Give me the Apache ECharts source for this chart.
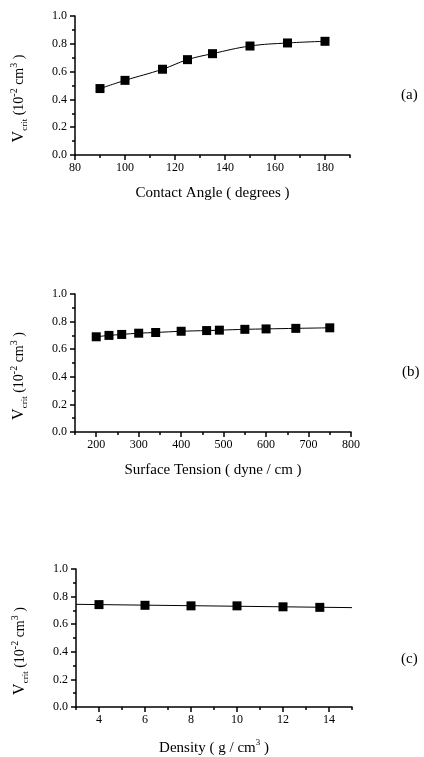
<!DOCTYPE html>
<html>
<head>
<meta charset="utf-8">
<script src="https://cdn.jsdelivr.net/npm/echarts@6/dist/echarts.min.js"></script>
<style>
  html, body { margin: 0; padding: 0; background: #fff; }
  #chart { width: 424px; height: 757px; }
</style>
</head>
<body>
<div id="chart"></div>
<script>
// (a) contact angle
const angleX = [90, 100, 115, 125, 135, 150, 165, 180];
const angleV = [0.478, 0.537, 0.617, 0.686, 0.729, 0.784, 0.806, 0.818];
const angleMajor = [80, 100, 120, 140, 160, 180];

// (b) surface tension
const tensionX = [200, 230, 260, 300, 340, 400, 460, 490, 550, 600, 670, 750];
const tensionV = [0.69, 0.70, 0.707, 0.716, 0.721, 0.73, 0.735, 0.738, 0.744, 0.747, 0.751, 0.755];
const tensionMajor = [200, 300, 400, 500, 600, 700, 800];

// (c) density
const densityX = [4, 6, 8, 10, 12, 13.6];
const densityV = [0.742, 0.737, 0.733, 0.733, 0.726, 0.722];
const densityFitX = [3, 15];
const densityFitV = [0.744, 0.72];
const densityMajor = [4, 6, 8, 10, 12, 14];

const font = 'Liberation Serif';
const ink = '#000';

const chart = echarts.init(document.getElementById('chart'));

function pairs(xs, ys) {
  return xs.map((x, i) => [x, ys[i]]);
}

function xAxes(idx, min, max, step, majors, name, rich) {
  return [
    {
      type: 'value', gridIndex: idx, position: 'bottom', min: min, max: max, interval: step,
      name: name, nameLocation: 'middle', nameGap: 31,
      nameTextStyle: {fontFamily: font, fontSize: 15, color: ink, rich: rich},
      axisLine: {lineStyle: {color: ink, width: 1.5}},
      axisTick: {length: 3, lineStyle: {color: ink, width: 1.5}},
      axisLabel: {
        margin: 7, fontFamily: font, fontSize: 12, color: ink,
        formatter: v => (majors.indexOf(v) >= 0 ? String(v) : '')
      },
      splitLine: {show: false}
    },
    {
      type: 'value', gridIndex: idx, position: 'bottom', offset: 0, min: min, max: max, interval: step,
      axisLine: {show: false},
      axisTick: {length: 5, customValues: majors, lineStyle: {color: ink, width: 1.5}},
      axisLabel: {show: false},
      splitLine: {show: false}
    }
  ];
}

const supRich = {
  t: {fontFamily: font, fontSize: 15, color: ink, lineHeight: 20},
  p: {fontFamily: font, fontSize: 9, color: ink, lineHeight: 12, verticalAlign: 'top'}
};

const yRich = {
  v: {fontFamily: font, fontSize: 16, color: ink, lineHeight: 20},
  s: {fontFamily: font, fontSize: 9, color: ink, lineHeight: 10, verticalAlign: 'bottom'},
  t: {fontFamily: font, fontSize: 14, color: ink, lineHeight: 20},
  p: {fontFamily: font, fontSize: 10, color: ink, lineHeight: 13, verticalAlign: 'top'}
};

function yAxis(idx) {
  return {
    type: 'value', gridIndex: idx, min: 0, max: 1, interval: 0.2,
    name: '{v|V}{s|crit}{t| (10}{p|-2}{t| cm}{p|3}{t| )}',
    nameLocation: 'middle', nameGap: 46,
    nameTextStyle: {padding: [0, 26, 0, 0], rich: yRich},
    axisLine: {lineStyle: {color: ink, width: 1.5}},
    axisTick: {length: 5, lineStyle: {color: ink, width: 1.5}},
    minorTick: {show: true, splitNumber: 2, length: 3, lineStyle: {color: ink, width: 1.5}},
    axisLabel: {margin: 8, fontFamily: font, fontSize: 12, color: ink, formatter: v => v.toFixed(1)},
    splitLine: {show: false}
  };
}

const marker = {
  symbol: 'rect', symbolSize: 9,
  itemStyle: {color: ink, opacity: 1},
  lineStyle: {color: ink, width: 1},
  z: 3
};

const labelStyle = {fontFamily: font, fontSize: 15, fontWeight: 'normal', color: ink};

const options = {
  backgroundColor: '#fff',
  animation: false,
  title: [
    {text: '(a)', left: 396, top: 83, textStyle: labelStyle},
    {text: '(b)', left: 397, top: 360, textStyle: labelStyle},
    {text: '(c)', left: 396, top: 647, textStyle: labelStyle}
  ],
  grid: [
    {left: 75, top: 16, width: 275, height: 139},
    {left: 75, top: 294, width: 276, height: 138},
    {left: 76, top: 569, width: 276, height: 138}
  ],
  xAxis: [].concat(
    xAxes(0, 80, 190, 10, angleMajor, 'Contact Angle ( degrees )', null),
    xAxes(1, 150, 800, 50, tensionMajor, 'Surface Tension ( dyne / cm )', null),
    xAxes(2, 3, 15, 1, densityMajor, '{t|Density ( g / cm}{p|3}{t| )}', supRich)
  ),
  yAxis: [yAxis(0), yAxis(1), yAxis(2)],
  series: [
    Object.assign({type: 'line', xAxisIndex: 0, yAxisIndex: 0, smooth: 0.4, data: pairs(angleX, angleV)}, marker),
    Object.assign({type: 'line', xAxisIndex: 2, yAxisIndex: 1, smooth: 0.3, data: pairs(tensionX, tensionV)}, marker),
    {
      type: 'line', xAxisIndex: 4, yAxisIndex: 2, symbol: 'none',
      lineStyle: {color: ink, width: 1}, data: pairs(densityFitX, densityFitV)
    },
    Object.assign({type: 'scatter', xAxisIndex: 4, yAxisIndex: 2, data: pairs(densityX, densityV)}, marker)
  ]
};

chart.setOption(options);
</script>
</body>
</html>
